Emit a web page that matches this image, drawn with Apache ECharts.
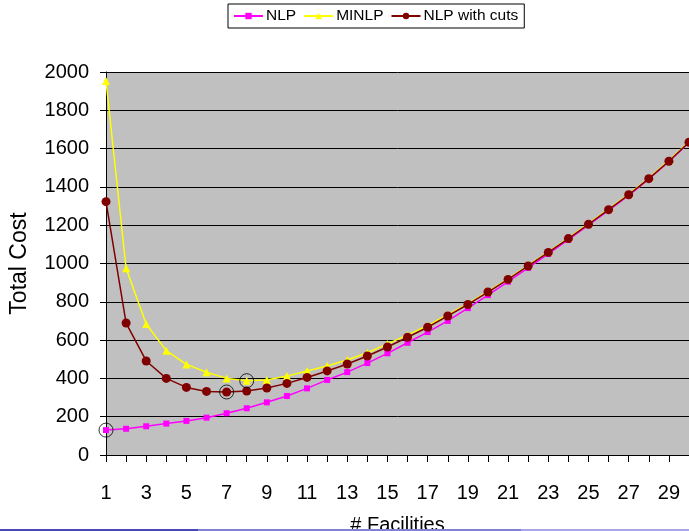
<!DOCTYPE html>
<html>
<head>
<meta charset="utf-8">
<script src="https://cdn.jsdelivr.net/npm/echarts@6/dist/echarts.min.js"></script>
<style>
html,body{margin:0;padding:0;background:#fff;}
#c{width:689px;height:531px;}
</style>
</head>
<body>
<div id="c"></div>
<script>
var categories = ['1','2','3','4','5','6','7','8','9','10','11','12','13','14','15','16','17','18','19','20','21','22','23','24','25','26','27','28','29','30'];
var nlp   = [130,137,150,164,178,195,218,244,275,308,348,392,433,480,531,586,642,700,767,835,905,977,1050,1124,1200,1277,1356,1441,1532,1632];
var minlp = [1953,975,684,545,473,432,400,388,392,412,439,465,496,534,580,627,675,733,790,855,920,990,1061,1133,1208,1284,1362,1446,1537,1636];
var cuts  = [1323,689,491,400,353,332,329,334,350,374,405,439,475,517,564,615,667,726,786,851,917,987,1058,1130,1205,1281,1359,1443,1534,1633];
var highlighted = [['1',130],['7',329],['8',388]];

var FONT = 'Liberation Sans, Arial, sans-serif';
var chart = echarts.init(document.getElementById('c'), null, {renderer:'canvas'});
chart.setOption({
  animation:false,
  backgroundColor:'#fff',
  legend:{
    data:['NLP','MINLP','NLP with cuts'],
    left:228, top:4,
    borderColor:'#000', borderWidth:1,
    padding:[4,6,4,5],
    itemWidth:29, itemHeight:8, itemGap:7,
    textStyle:{fontFamily:FONT,fontSize:15.5,color:'#000',padding:[0,0,0,-2]}
  },
  grid:{left:106,right:0,top:72,bottom:76,show:true,backgroundColor:'#c0c0c0',borderWidth:0,containLabel:false,outerBoundsMode:'none'},
  xAxis:{
    type:'category', data:categories, boundaryGap:false,
    name:'# Facilities', nameLocation:'middle', nameGap:60,
    nameTextStyle:{fontFamily:FONT,fontSize:20,color:'#000'},
    axisLine:{lineStyle:{color:'#000',width:1}},
    axisTick:{show:true,interval:0,length:7,lineStyle:{color:'#000'}},
    axisLabel:{interval:1,margin:28,fontFamily:FONT,fontSize:20,color:'#000'},
    splitLine:{show:false}
  },
  yAxis:{
    type:'value', min:0, max:2000, interval:200,
    name:'Total Cost', nameLocation:'middle', nameGap:75,
    nameTextStyle:{fontFamily:FONT,fontSize:23,color:'#000'},
    axisLine:{show:true,lineStyle:{color:'#000',width:1}},
    axisTick:{show:true,length:6,lineStyle:{color:'#000'}},
    axisLabel:{margin:17,fontFamily:FONT,fontSize:20,color:'#000',formatter:function(v){return String(v);}},
    splitLine:{show:true,lineStyle:{color:'#000',width:1}}
  },
  series:[
    {name:'NLP',type:'line',data:nlp,symbol:'rect',symbolSize:6,
     lineStyle:{color:'#ff00ff',width:1.5},itemStyle:{color:'#ff00ff'},z:2},
    {name:'MINLP',type:'line',data:minlp,symbol:'triangle',symbolSize:8,
     lineStyle:{color:'#ffff00',width:1.5},itemStyle:{color:'#ffff00'},z:3},
    {name:'NLP with cuts',type:'line',data:cuts,symbol:'circle',symbolSize:9,
     lineStyle:{color:'#800000',width:1.5},itemStyle:{color:'#800000'},z:4},
    {name:'opt',type:'scatter',data:highlighted,symbol:'circle',symbolSize:14,
     itemStyle:{color:'none',borderColor:'#000',borderWidth:1},z:5,silent:true}
  ],
  graphic:[
    {type:'rect',shape:{x:0,y:529,width:198,height:2},style:{fill:'#4848b8'},z:100},
    {type:'rect',shape:{x:198,y:529,width:323,height:2},style:{fill:'#8282d2'},z:100},
    {type:'rect',shape:{x:521,y:529,width:168,height:2},style:{fill:'#a8a8e2'},z:100}
  ]
});
</script>
</body>
</html>
